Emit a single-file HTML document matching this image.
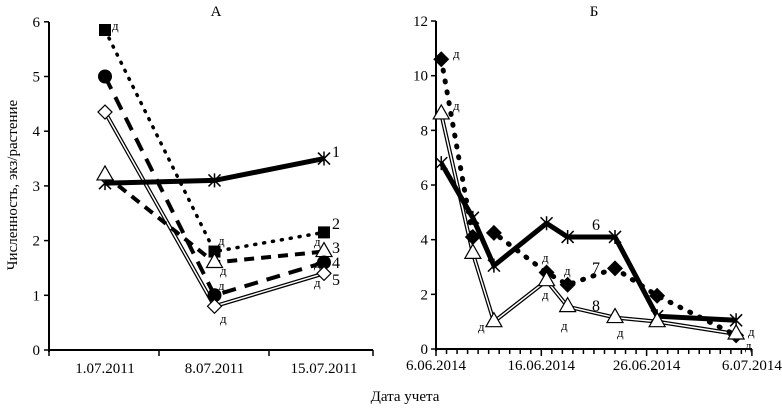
<!DOCTYPE html>
<html><head><meta charset="utf-8"><style>
body{margin:0;background:#fff}
svg{display:block;font-family:"Liberation Serif",serif}
</style></head><body>
<svg id="c" width="782" height="408">
<text x="216" y="16" font-size="15" text-anchor="middle">А</text>
<text x="594" y="16" font-size="15" text-anchor="middle">Б</text>
<text x="405" y="401" font-size="15" text-anchor="middle">Дата учета</text>
<text transform="translate(17,185) rotate(-90)" font-size="15" text-anchor="middle">Численность, экз/растение</text>
</svg>
<script>
const catsA=["1.07.2011","8.07.2011","15.07.2011"];
const s1=[3.05,3.1,3.5];
const s2=[5.85,1.8,2.15];
const s3=[3.2,1.6,1.8];
const s4=[5.0,1.0,1.6];
const s5=[4.35,0.8,1.4];
const ticksA=[0,1,2,3,4,5,6];
const daysB=[0.5,3.5,5.5,10.5,12.5,17,21,28.5];
const s6=[6.8,4.8,3.05,4.6,4.1,4.1,1.2,1.05];
const s7=[10.6,4.1,4.25,2.8,2.35,2.95,1.95,0.5];
const s8=[8.6,3.5,1.0,2.5,1.55,1.15,1.0,0.55];
const ticksB=[0,2,4,6,8,10,12];
const labelsB=["6.06.2014","16.06.2014","26.06.2014","6.07.2014"];
const labelDaysB=[0,10,20,30];

const svg=document.getElementById('c');const NS='http://www.w3.org/2000/svg';
function mk(t,a,name){const e=document.createElementNS(NS,t);for(const k in a)e.setAttribute(k,a[k]);


svg.appendChild(e);return e;}
function txt(x,y,s,name,anchor,size){const e=mk('text',{x:x,y:y,'font-size':size||15,'text-anchor':anchor||'middle'},name);e.textContent=s;return e;}

const xA=i=>105+i*109.5, yA=v=>350-v*54.7;
mk('line',{x1:49,y1:22,x2:49,y2:352,stroke:'#000','stroke-width':2},'a-y-axis');
mk('line',{x1:49,y1:350,x2:373,y2:350,stroke:'#000','stroke-width':2},'a-x-axis');
ticksA.forEach(t=>{mk('line',{x1:44,y1:yA(t),x2:49,y2:yA(t),stroke:'#000','stroke-width':1.5},'a-y-tick');txt(40,yA(t)+5,String(t),'a-y-tick-label','end');});
[49,159,269,373].forEach(x=>mk('line',{x1:x,y1:350,x2:x,y2:356,stroke:'#000','stroke-width':1.5},'a-x-tick'));
catsA.forEach((c,i)=>txt(xA(i),373,c,'a-x-label'));

const xB=d=>436+d*10.53, yB=v=>349-v*27.33;
mk('line',{x1:436,y1:21,x2:436,y2:351,stroke:'#000','stroke-width':2},'b-y-axis');
mk('line',{x1:436,y1:349,x2:752,y2:349,stroke:'#000','stroke-width':2},'b-x-axis');
ticksB.forEach(t=>{mk('line',{x1:431,y1:yB(t),x2:436,y2:yB(t),stroke:'#000','stroke-width':1.5},'b-y-tick');txt(428,yB(t)+5,String(t),'b-y-tick-label','end');});
for(let d=0;d<=30;d++)mk('line',{x1:xB(d),y1:349,x2:xB(d),y2:d%10==0?356:354,stroke:'#000','stroke-width':1.5},'b-x-tick');
labelsB.forEach((l,i)=>txt(xB(labelDaysB[i]),370,l,'b-x-label'));

function path(xs,ys,xf,yf){return xs.map((x,i)=>(i?'L':'M')+xf(x)+','+yf(ys[i])).join(' ');}
function series(xs,ys,xf,yf,style,name){
 const d=path(xs,ys,xf,yf);
 if(style==='double'){mk('path',{d:d,fill:'none',stroke:'#000','stroke-width':4},name);mk('path',{d:d,fill:'none',stroke:'#fff','stroke-width':1.5},name+'-inner');}
 else mk('path',Object.assign({d:d,fill:'none',stroke:'#000'},style),name);
}
function marker(type,x,y,name){
 if(type==='sq')mk('rect',{x:x-6,y:y-6,width:12,height:12,fill:'#000'},name);
 else if(type==='circ')mk('circle',{cx:x,cy:y,r:7,fill:'#000'},name);
 else if(type==='tri')mk('path',{d:`M${x},${y-9}L${x+8},${y+5}L${x-8},${y+5}Z`,fill:'#fff',stroke:'#000','stroke-width':1.2},name);
 else if(type==='dia')mk('path',{d:`M${x},${y-7}L${x+7},${y}L${x},${y+7}L${x-7},${y}Z`,fill:'#fff',stroke:'#000','stroke-width':1.2},name);
 else if(type==='bdia')mk('path',{d:`M${x},${y-8}L${x+8},${y}L${x},${y+8}L${x-8},${y}Z`,fill:'#000'},name);
 else if(type==='x')mk('path',{d:`M${x-6},${y-6}L${x+6},${y+6}M${x+6},${y-6}L${x-6},${y+6}M${x},${y-7}L${x},${y+7}`,stroke:'#000','stroke-width':1.5},name);
}
const idx=[0,1,2];
series(idx,s5,xA,yA,'double','series-5-line');
series(idx,s4,xA,yA,{'stroke-width':4,'stroke-dasharray':'14,9'},'series-4-line');
series(idx,s3,xA,yA,{'stroke-width':4,'stroke-dasharray':'10,7'},'series-3-line');
series(idx,s2,xA,yA,{'stroke-width':3.5,'stroke-dasharray':'1,8','stroke-linecap':'round'},'series-2-line');
series(idx,s1,xA,yA,{'stroke-width':5},'series-1-line');
idx.forEach(i=>{marker('x',xA(i),yA(s1[i]),'series-1-point');marker('sq',xA(i),yA(s2[i]),'series-2-point');marker('tri',xA(i),yA(s3[i]),'series-3-point');marker('circ',xA(i),yA(s4[i]),'series-4-point');marker('dia',xA(i),yA(s5[i]),'series-5-point');});
[["1",332,157],["2",332,229],["3",332,253],["4",332,268],["5",332,285]].forEach(l=>txt(l[1],l[2],l[0],'series-label','start',16));
[[112,30],[218,245],[220,275],[218,290],[220,323],[314,246],[314,268],[314,287]].forEach(p=>txt(p[0],p[1],'д','significance-mark','start',13));

series(daysB,s8,xB,yB,'double','series-8-line');
series(daysB,s7,xB,yB,{'stroke-width':5,'stroke-dasharray':'1,10','stroke-linecap':'round'},'series-7-line');
series(daysB,s6,xB,yB,{'stroke-width':5},'series-6-line');
daysB.forEach((d,i)=>{marker('x',xB(d),yB(s6[i]),'series-6-point');marker('bdia',xB(d),yB(s7[i]),'series-7-point');marker('tri',xB(d),yB(s8[i]),'series-8-point');});
txt(596,230,'6','series-label','middle',16);txt(596,273,'7','series-label','middle',16);txt(596,311,'8','series-label','middle',16);
[[453,58],[453,110],[478,331],[542,262],[542,299],[564,275],[561,330],[617,337],[748,336],[745,350]].forEach(p=>txt(p[0],p[1],'д','significance-mark','start',13));
</script>
</body></html>
